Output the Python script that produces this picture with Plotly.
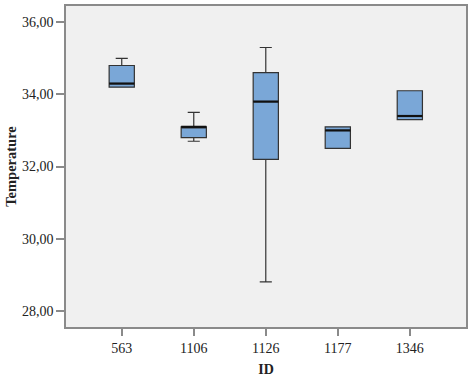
import plotly.graph_objects as go

ids = ["563", "1106", "1126", "1177", "1346"]
lower = [34.2, 32.7, 28.8, 32.5, 33.3]
q1 = [34.2, 32.8, 32.2, 32.5, 33.3]
median = [34.3, 33.1, 33.8, 33.0, 33.4]
q3 = [34.8, 33.1, 34.6, 33.1, 34.1]
upper = [35.0, 33.5, 35.3, 33.1, 34.1]
y_ticks = [28, 30, 32, 34, 36]

pos = list(range(len(ids)))
bw = 0.35

fig = go.Figure()
fig.add_trace(go.Box(
    x=pos, q1=q1, median=median, q3=q3, lowerfence=lower, upperfence=upper,
    width=bw, whiskerwidth=0.48,
    fillcolor="#7AA7D7", line=dict(color="#333333", width=1.2),
    showlegend=False, hoverinfo="skip",
))
for i, m in zip(pos, median):
    fig.add_trace(go.Scatter(
        x=[i - bw / 2, i + bw / 2], y=[m, m], mode="lines",
        line=dict(color="#111111", width=2.2), showlegend=False, hoverinfo="skip",
    ))

fig.update_layout(
    width=474, height=377,
    margin=dict(l=66, r=8, t=6, b=50),
    paper_bgcolor="white", plot_bgcolor="#F0F0F0",
    separators=", ",
    font=dict(family="Liberation Serif", color="#222222"),
)
fig.update_xaxes(
    range=[-0.774, 4.78], tickvals=pos, ticktext=ids, automargin=False,
    showgrid=False, zeroline=False,
    showline=True, mirror=True, linecolor="#8a8a8a", linewidth=1.5,
    ticks="outside", ticklen=7, tickcolor="#8a8a8a", tickwidth=1.5,
    tickfont=dict(size=14, family="Liberation Serif", color="#222"),
    title=dict(text="<b>ID</b>", font=dict(size=14, family="Liberation Serif", color="#222"), standoff=11),
)
fig.update_yaxes(
    range=[27.55, 36.45], tickvals=y_ticks, tickformat=".2f", automargin=False,
    showgrid=False, zeroline=False,
    showline=True, mirror=True, linecolor="#8a8a8a", linewidth=1.5,
    ticks="outside", ticklen=8, tickcolor="#8a8a8a", tickwidth=1.5,
    tickfont=dict(size=14, family="Liberation Serif", color="#222"),
    title=dict(text="<b>Temperature</b>", font=dict(size=14.5, family="Liberation Serif", color="#222"), standoff=2),
)

fig.write_html("out.html")
